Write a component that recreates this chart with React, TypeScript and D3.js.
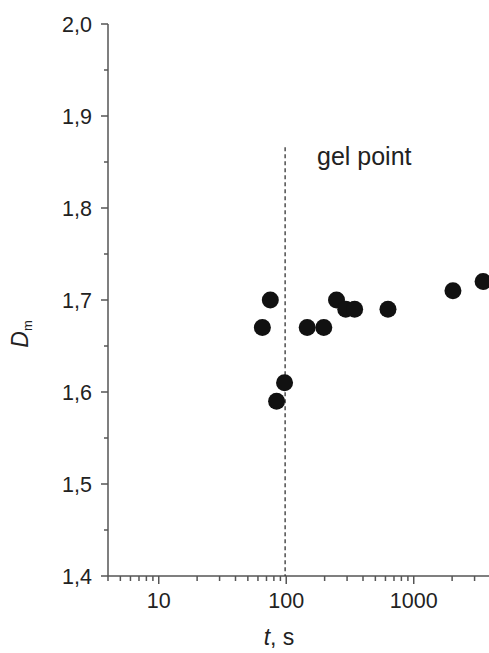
import { useEffect, useRef } from 'react';
import * as d3 from 'd3';

// time (s) and mass fractal dimension
const times = [65, 75, 84, 97, 146, 197, 248, 293, 344, 628, 2030, 3500];
const dm = [1.67, 1.70, 1.59, 1.61, 1.67, 1.67, 1.70, 1.69, 1.69, 1.69, 1.71, 1.72];

const yTicks = [1.4, 1.5, 1.6, 1.7, 1.8, 1.9, 2.0];
const yMinor = [1.45, 1.55, 1.65, 1.75, 1.85, 1.95];
const xTicks = [10, 100, 1000];

const gelTime = 98;
const gelTop = 1.866;
const gelLabel = 'gel point';

const W = 489;
const H = 653;

const App = () => {
  const svgRef = useRef<SVGSVGElement>(null);

  useEffect(() => {
    if (!svgRef.current) return;
    const svg = d3.select(svgRef.current);
    svg.selectAll('*').remove();

    const x = d3.scaleLog().domain([4, 4000]).range([108, 490.5]);
    const y = d3.scaleLinear().domain([1.4, 2.0]).range([576, 24]);
    const axisColor = '#555';
    const font = 'Liberation Sans, Arial, sans-serif';
    const fmt = (v: number) => d3.format('.1f')(v).replace('.', ',');

    // y axis line
    svg.append('line')
      .attr('x1', x(4)).attr('x2', x(4))
      .attr('y1', y(2.0)).attr('y2', y(1.4))
      .attr('stroke', axisColor).attr('stroke-width', 1.5);

    // x axis line
    svg.append('line')
      .attr('x1', x(4)).attr('x2', W)
      .attr('y1', y(1.4)).attr('y2', y(1.4))
      .attr('stroke', axisColor).attr('stroke-width', 1.5);

    // y ticks
    svg.selectAll('.ytick')
      .data(yTicks)
      .enter()
      .append('line')
      .attr('x1', x(4) - 7).attr('x2', x(4))
      .attr('y1', d => y(d)).attr('y2', d => y(d))
      .attr('stroke', axisColor).attr('stroke-width', 1.5);

    svg.selectAll('.yminor')
      .data(yMinor)
      .enter()
      .append('line')
      .attr('x1', x(4) - 4).attr('x2', x(4))
      .attr('y1', d => y(d)).attr('y2', d => y(d))
      .attr('stroke', axisColor).attr('stroke-width', 1.5);

    svg.selectAll('.ylabel')
      .data(yTicks)
      .enter()
      .append('text')
      .attr('x', 92)
      .attr('y', d => y(d))
      .attr('dy', '0.36em')
      .attr('text-anchor', 'end')
      .style('font-family', font)
      .style('font-size', '21.5px')
      .style('fill', '#222')
      .text(d => fmt(d));

    // x ticks (log, with minors)
    const minorX: number[] = [];
    for (let dec = 1; dec <= 1000; dec *= 10) {
      for (let k = 1; k <= 9; k++) {
        const v = dec * k;
        if (v >= 4 && v <= 4000 && !xTicks.includes(v)) minorX.push(v);
      }
    }

    svg.selectAll('.xminor')
      .data(minorX)
      .enter()
      .append('line')
      .attr('x1', d => x(d)).attr('x2', d => x(d))
      .attr('y1', y(1.4)).attr('y2', y(1.4) + 5)
      .attr('stroke', axisColor).attr('stroke-width', 1.5);

    svg.selectAll('.xtick')
      .data(xTicks)
      .enter()
      .append('line')
      .attr('x1', d => x(d)).attr('x2', d => x(d))
      .attr('y1', y(1.4)).attr('y2', y(1.4) + 8)
      .attr('stroke', axisColor).attr('stroke-width', 1.5);

    svg.selectAll('.xlabel')
      .data(xTicks)
      .enter()
      .append('text')
      .attr('x', d => x(d))
      .attr('y', 608)
      .attr('text-anchor', 'middle')
      .style('font-family', font)
      .style('font-size', '21.5px')
      .style('fill', '#222')
      .text(d => String(d));

    // axis titles
    const xt = svg.append('text')
      .attr('x', 279)
      .attr('y', 645)
      .attr('text-anchor', 'middle')
      .style('font-family', font)
      .style('font-size', '23px')
      .style('fill', '#222');
    xt.append('tspan').style('font-style', 'italic').text('t');
    xt.append('tspan').text(', s');

    const yt = svg.append('text')
      .attr('transform', `translate(28, 334) rotate(-90)`)
      .attr('text-anchor', 'middle')
      .style('font-family', font)
      .style('font-size', '23px')
      .style('fill', '#222');
    yt.append('tspan').style('font-style', 'italic').text('D');
    yt.append('tspan').attr('dy', 4).style('font-size', '13px').text('m');

    // gel point marker
    svg.append('line')
      .attr('x1', x(gelTime)).attr('x2', x(gelTime))
      .attr('y1', y(gelTop)).attr('y2', y(1.4))
      .attr('stroke', '#333')
      .attr('stroke-width', 1.3)
      .attr('stroke-dasharray', '4,3');

    svg.append('text')
      .attr('x', 317)
      .attr('y', 165)
      .style('font-family', font)
      .style('font-size', '25px')
      .style('fill', '#222')
      .text(gelLabel);

    // data points
    svg.selectAll('circle')
      .data(times.map((t, i) => ({ t, d: dm[i] })))
      .enter()
      .append('circle')
      .attr('cx', p => x(p.t))
      .attr('cy', p => y(p.d))
      .attr('r', 8.5)
      .attr('fill', '#111');
  }, []);

  return (
    <svg
      ref={svgRef}
      width={W}
      height={H}
      style={{ position: 'absolute', left: 0, top: 0, background: '#fff' }}
    ></svg>
  );
};

export default App;
